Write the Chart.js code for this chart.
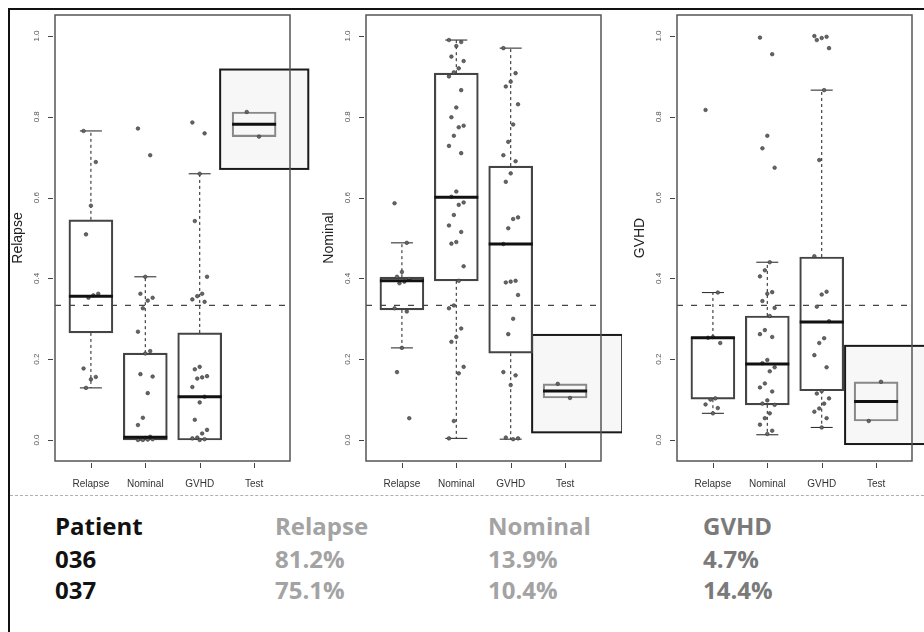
<!DOCTYPE html>
<html>
<head>
<meta charset="utf-8">
<script src="https://cdn.jsdelivr.net/npm/chart.js@4.4.1/dist/chart.umd.min.js"></script>
<style>
  body { margin: 0; background: #fff; width: 924px; height: 632px; overflow: hidden; position: relative; }
  .frame { position: absolute; left: 8px; top: 8px; width: 1000px; height: 1000px; border: 2px solid #111; }
  .panel { position: absolute; top: 0; width: 311px; height: 495px; }
  .sep { position: absolute; left: 10px; top: 495px; width: 914px; border-top: 1px dashed #b0b0b0; }
  .cell { position: absolute; font: bold 24px 'Open Sans', sans-serif; line-height: 24px; white-space: nowrap; }
</style>
</head>
<body>
<div class="frame"></div>
<div class="panel" style="left:0px"><canvas id="p0"></canvas></div>
<div class="panel" style="left:311px"><canvas id="p1"></canvas></div>
<div class="panel" style="left:622px"><canvas id="p2"></canvas></div>
<div class="sep"></div>
<div id="table"></div>
<script>
// classes on the x axis of every panel
const classes = ['Relapse', 'Nominal', 'GVHD', 'Test'];
const panelTitles = ['Relapse', 'Nominal', 'GVHD'];
const yTicks = [0.0, 0.2, 0.4, 0.6, 0.8, 1.0];
const threshold = 0.333;

// test patients (table below the plots)
const patients = ['036', '037'];
const relapsePct = [81.2, 75.1];
const nominalPct = [13.9, 10.4];
const gvhdPct = [4.7, 14.4];

// box stats [lower whisker, Q1, median, Q3, upper whisker] for Relapse, Nominal, GVHD
const relapseStats = [
  [0.129, 0.265, 0.356, 0.545, 0.765],
  [0.0, 0.0, 0.007, 0.215, 0.404],
  [0.0, 0.0, 0.107, 0.265, 0.659]
];
const nominalStats = [
  [0.228, 0.322, 0.394, 0.403, 0.488],
  [0.004, 0.394, 0.601, 0.908, 0.990],
  [0.002, 0.215, 0.485, 0.678, 0.970]
];
const gvhdStats = [
  [0.066, 0.101, 0.253, 0.255, 0.365],
  [0.013, 0.087, 0.188, 0.307, 0.440],
  [0.031, 0.122, 0.292, 0.453, 0.866]
];

// individual samples per class
const relapsePoints = [
  [0.765, 0.688, 0.58, 0.509, 0.362, 0.358, 0.352, 0.177, 0.156, 0.150, 0.129],
  [0.771, 0.705, 0.404, 0.362, 0.352, 0.345, 0.326, 0.268, 0.22, 0.214, 0.163, 0.157, 0.116, 0.055, 0.037, 0.008, 0.005, 0.003, 0.002, 0.001, 0.0, 0.0],
  [0.786, 0.759, 0.659, 0.542, 0.404, 0.362, 0.356, 0.348, 0.342, 0.181, 0.175, 0.158, 0.155, 0.152, 0.131, 0.107, 0.093, 0.05, 0.025, 0.016, 0.006, 0.004, 0.002, 0.0]
];
const nominalPoints = [
  [0.586, 0.488, 0.416, 0.404, 0.398, 0.392, 0.388, 0.326, 0.318, 0.228, 0.168, 0.054],
  [0.990, 0.985, 0.975, 0.949, 0.938, 0.920, 0.910, 0.900, 0.866, 0.823, 0.799, 0.778, 0.774, 0.753, 0.728, 0.710, 0.615, 0.602, 0.588, 0.582, 0.557, 0.531, 0.515, 0.490, 0.486, 0.430, 0.394, 0.333, 0.326, 0.276, 0.255, 0.243, 0.181, 0.165, 0.047, 0.004],
  [0.970, 0.908, 0.887, 0.875, 0.831, 0.781, 0.738, 0.705, 0.690, 0.660, 0.639, 0.551, 0.547, 0.524, 0.485, 0.394, 0.392, 0.390, 0.359, 0.300, 0.262, 0.168, 0.160, 0.136, 0.006, 0.004, 0.002]
];
const gvhdPoints = [
  [0.817, 0.365, 0.255, 0.253, 0.240, 0.103, 0.100, 0.088, 0.079, 0.066],
  [0.996, 0.955, 0.753, 0.722, 0.674, 0.440, 0.420, 0.405, 0.366, 0.362, 0.344, 0.327, 0.307, 0.272, 0.262, 0.255, 0.198, 0.190, 0.180, 0.170, 0.140, 0.130, 0.120, 0.098, 0.090, 0.087, 0.066, 0.054, 0.038, 0.023, 0.015],
  [1.000, 0.998, 0.995, 0.990, 0.970, 0.866, 0.693, 0.455, 0.367, 0.360, 0.330, 0.294, 0.252, 0.240, 0.210, 0.180, 0.121, 0.115, 0.103, 0.090, 0.078, 0.070, 0.054, 0.031]
];

// the highlight box drawn round the Test column (x in class units, y in probability)
const testFrames = [
  { x: [3.376, 4.996], y: [0.671, 0.917] },
  { x: [3.394, 5.05], y: [0.019, 0.260] },
  { x: [3.43, 5.3], y: [-0.01, 0.233] }
];

function testStats(pct) {
  const v = pct.map(p => p / 100);
  const lo = Math.min(...v), hi = Math.max(...v);
  const mid = v.reduce((a, b) => a + b, 0) / v.length;
  return [lo, lo, mid, hi, hi];
}

function boxExtras(stats, frame) {
  return {
    id: 'boxExtras',
    beforeDatasetsDraw(chart) {
      const { ctx, chartArea: a, scales: { x, y } } = chart;
      ctx.save();
      // highlight frame round the test patients
      const fx0 = x.getPixelForValue(frame.x[0]), fx1 = x.getPixelForValue(frame.x[1]);
      const fy0 = y.getPixelForValue(frame.y[1]), fy1 = y.getPixelForValue(frame.y[0]);
      ctx.fillStyle = 'rgba(0,0,0,0.03)';
      ctx.fillRect(fx0, fy0, fx1 - fx0, fy1 - fy0);
      ctx.strokeStyle = '#1a1a1a';
      ctx.lineWidth = 2;
      ctx.strokeRect(fx0, fy0, fx1 - fx0, fy1 - fy0);

      // 1/3 threshold
      const ty = y.getPixelForValue(threshold);
      ctx.strokeStyle = '#444';
      ctx.lineWidth = 1.2;
      ctx.setLineDash([6, 8]);
      ctx.beginPath();
      ctx.moveTo(a.left, ty);
      ctx.lineTo(a.right, ty);
      ctx.stroke();

      // whiskers and staples
      ctx.lineWidth = 1.1;
      ctx.strokeStyle = '#333';
      stats.forEach((s, i) => {
        const cx = x.getPixelForValue(i + 1);
        [[s[0], s[1]], [s[4], s[3]]].forEach(([end, edge]) => {
          if (end === edge) return;
          const pe = y.getPixelForValue(end), pb = y.getPixelForValue(edge);
          ctx.setLineDash([3, 3]);
          ctx.beginPath();
          ctx.moveTo(cx, pb);
          ctx.lineTo(cx, pe);
          ctx.stroke();
          ctx.setLineDash([]);
          ctx.beginPath();
          ctx.moveTo(cx - 11, pe);
          ctx.lineTo(cx + 11, pe);
          ctx.stroke();
        });
      });
      ctx.restore();
    },
    afterDatasetsDraw(chart) {
      const { ctx, chartArea: a, scales: { x, y } } = chart;
      ctx.save();
      // medians
      ctx.strokeStyle = '#111';
      ctx.lineWidth = 3;
      stats.forEach((s, i) => {
        const cx = x.getPixelForValue(i + 1);
        const my = y.getPixelForValue(s[2]);
        ctx.beginPath();
        ctx.moveTo(cx - 22, my);
        ctx.lineTo(cx + 22, my);
        ctx.stroke();
      });
      // plot box
      ctx.strokeStyle = '#555';
      ctx.lineWidth = 1.5;
      ctx.strokeRect(a.left, a.top, a.right - a.left, a.bottom - a.top);
      // tick marks
      ctx.lineWidth = 1;
      ctx.strokeStyle = '#444';
      ctx.beginPath();
      yTicks.forEach(v => {
        const py = Math.round(y.getPixelForValue(v)) + 0.5;
        ctx.moveTo(a.left - 7, py);
        ctx.lineTo(a.left - 2, py);
      });
      classes.forEach((c, i) => {
        const px = Math.round(x.getPixelForValue(i + 1)) + 0.5;
        ctx.moveTo(px, a.bottom + 2);
        ctx.lineTo(px, a.bottom + 7);
      });
      ctx.stroke();
      // rotated y tick labels
      ctx.fillStyle = '#555';
      ctx.font = '8px "Liberation Sans"';
      ctx.textAlign = 'center';
      ctx.textBaseline = 'middle';
      yTicks.forEach(v => {
        ctx.save();
        ctx.translate(a.left - 18, y.getPixelForValue(v));
        ctx.rotate(-Math.PI / 2);
        ctx.fillText(v.toFixed(1), 0, 0);
        ctx.restore();
      });
      ctx.restore();
    }
  };
}

function makePanel(id, title, stats, points, frame) {
  const ctx = document.getElementById(id).getContext('2d');
  new Chart(ctx, {
    type: 'bar',
    data: {
      datasets: [{
        type: 'scatter',
        data: points.flatMap((vals, i) => vals.map((v, j) => ({ x: i + 1 + ((j * 5) % 7 - 3) * 0.045, y: v }))),
        pointRadius: 1.8,
        pointBackgroundColor: '#666',
        pointBorderColor: '#333',
        pointBorderWidth: 0.6
      }, {
        type: 'bar',
        data: stats.map((s, i) => ({ x: i + 1, y: [s[1], s[3]] })),
        backgroundColor: 'rgba(0,0,0,0)',
        borderColor: ['#444', '#444', '#444', '#888'],
        borderWidth: 1.5,
        borderSkipped: false,
        barThickness: 44
      }]
    },
    options: {
      responsive: true,
      maintainAspectRatio: false,
      animation: false,
      devicePixelRatio: 1,
      layout: { padding: { top: 15, right: 21, left: 0, bottom: 0 } },
      scales: {
        x: {
          type: 'linear',
          min: 0.34,
          max: 4.66,
          offset: false,
          afterBuildTicks: s => { s.ticks = classes.map((c, i) => ({ value: i + 1 })); },
          afterFit: s => { s.height = 34; },
          ticks: {
            callback: v => classes[v - 1],
            font: { family: 'Liberation Sans', size: 10 },
            color: '#333',
            padding: 9,
            maxRotation: 0,
            autoSkip: false
          },
          grid: { display: false, offset: false },
          border: { display: false }
        },
        y: {
          min: -0.052,
          max: 1.052,
          afterBuildTicks: s => { s.ticks = yTicks.map(v => ({ value: v })); },
          afterFit: s => { s.width = 55; },
          ticks: { display: false },
          grid: { display: false },
          border: { display: false },
          title: {
            display: true,
            text: title,
            font: { family: 'Liberation Sans', size: 14 },
            color: '#222',
            padding: { top: 10, bottom: 0 }
          }
        }
      },
      plugins: {
        legend: { display: false },
        tooltip: { enabled: false }
      }
    },
    plugins: [boxExtras(stats, frame)]
  });
}

const pctLists = [relapsePct, nominalPct, gvhdPct];
const statLists = [relapseStats, nominalStats, gvhdStats];
const pointLists = [relapsePoints, nominalPoints, gvhdPoints];
panelTitles.forEach((t, k) => {
  const stats = statLists[k].concat([testStats(pctLists[k])]);
  const points = pointLists[k].concat([pctLists[k].map(p => p / 100)]);
  makePanel('p' + k, t, stats, points, testFrames[k]);
});

// table of the two test patients
const colX = [55, 275, 488, 703];
const rowTop = [514, 547, 578];
const colColor = ['#111', '#a3a3a3', '#a3a3a3', '#7a7a7a'];
const header = ['Patient'].concat(panelTitles);
const rows = [header].concat(patients.map((p, r) => [p, relapsePct[r] + '%', nominalPct[r] + '%', gvhdPct[r] + '%']));
const table = document.getElementById('table');
rows.forEach((row, r) => {
  row.forEach((txt, c) => {
    const d = document.createElement('div');
    d.className = 'cell';
    d.style.left = colX[c] + 'px';
    d.style.top = rowTop[r] + 'px';
    d.style.color = colColor[c];
    d.textContent = txt;
    table.appendChild(d);
  });
});
</script>
</body>
</html>
